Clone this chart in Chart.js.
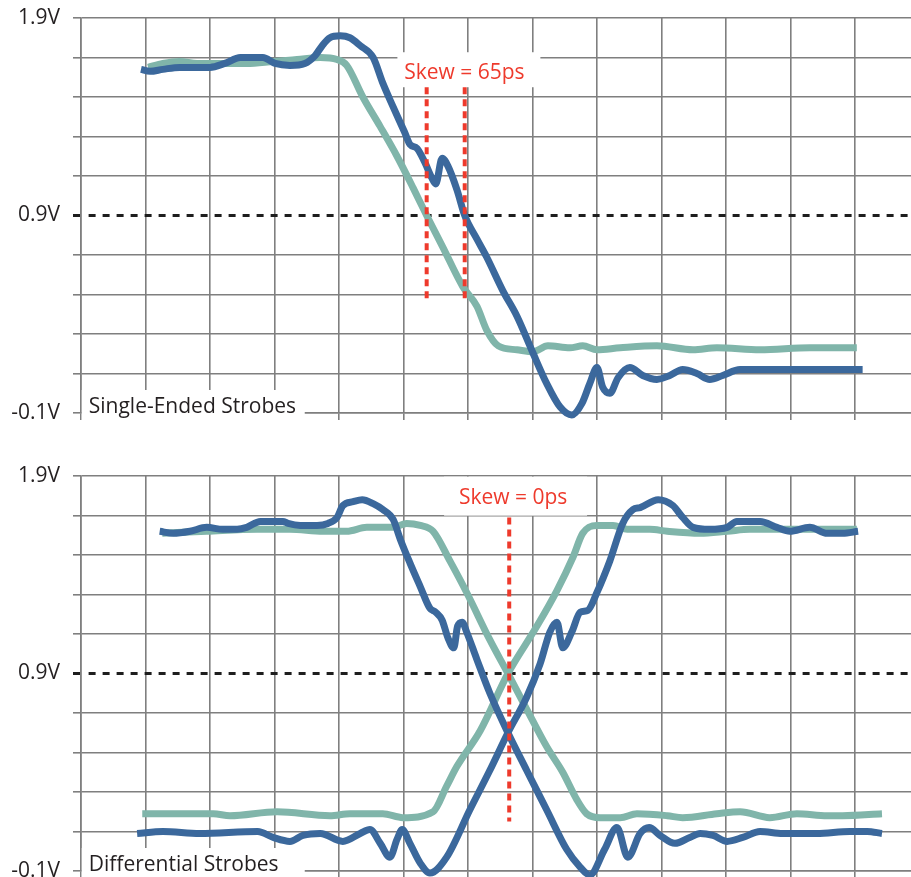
<!DOCTYPE html>
<html>
<head>
<meta charset="utf-8">
<title>Single-ended vs differential strobes</title>
<script src="https://cdn.jsdelivr.net/npm/chart.js@4.4.1/dist/chart.umd.min.js"></script>
<style>
  html, body { margin: 0; padding: 0; background: #fff; }
  canvas { position: absolute; left: 0; }
  #single-ended { top: 0; }
  #differential { top: 440px; }
</style>
</head>
<body>
<canvas id="single-ended" width="911" height="440"></canvas>
<canvas id="differential" width="911" height="437"></canvas>
<script>
// time is in scope divisions, voltage in volts

// single-ended strobes
const seStrobeATime = [0.93, 1.07, 1.27, 1.53, 1.77, 2.00, 2.23, 2.47, 2.82, 3.01, 3.24, 3.47, 3.63, 3.74, 3.86, 4.02, 4.17, 4.33, 4.53, 4.68,
  4.84, 5.02, 5.10, 5.21, 5.33, 5.44, 5.50, 5.60, 5.69, 5.83, 5.95, 6.14, 6.29, 6.54, 6.76, 7.00, 7.22, 7.43, 7.61, 7.77,
  7.89, 8.00, 8.09, 8.20, 8.33, 8.51, 8.71, 8.93, 9.13, 9.33, 9.55, 9.75, 9.95, 10.22, 10.53, 11.04, 11.57, 11.97, 12.12]
const seStrobeAVolts = [1.64, 1.63, 1.64, 1.65, 1.65, 1.65, 1.67, 1.70, 1.70, 1.67, 1.66, 1.67, 1.71, 1.76, 1.80, 1.81, 1.80, 1.76, 1.70, 1.57,
  1.45, 1.32, 1.26, 1.24, 1.17, 1.09, 1.06, 1.19, 1.15, 1.03, 0.90, 0.78, 0.69, 0.52, 0.39, 0.21, 0.05, -0.07, -0.11, -0.05,
  0.05, 0.13, 0.03, 0.00, 0.08, 0.13, 0.09, 0.07, 0.09, 0.12, 0.10, 0.07, 0.09, 0.12, 0.12, 0.12, 0.12, 0.12, 0.12]

const seStrobeBTime = [1.04, 1.27, 1.53, 1.80, 2.16, 2.57, 2.98, 3.35, 3.71, 3.97, 4.12, 4.37, 4.64, 4.90, 5.15, 5.36, 5.61, 5.92, 6.14, 6.29,
  6.47, 6.76, 7.01, 7.24, 7.58, 7.78, 8.00, 8.36, 8.93, 9.49, 9.86, 10.53, 11.30, 12.03]
const seStrobeBVolts = [1.65, 1.67, 1.68, 1.67, 1.67, 1.67, 1.68, 1.69, 1.70, 1.69, 1.66, 1.50, 1.35, 1.20, 1.04, 0.90, 0.74, 0.54, 0.44, 0.32,
  0.24, 0.22, 0.21, 0.24, 0.23, 0.24, 0.22, 0.23, 0.24, 0.22, 0.23, 0.22, 0.23, 0.23]

// differential strobes (true / complement of each pair)
const dqsATime = [1.22, 1.43, 1.69, 1.95, 2.20, 2.42, 2.57, 2.78, 2.98, 3.13, 3.21, 3.40, 3.66, 3.83, 3.97, 4.06, 4.22, 4.36, 4.53, 4.68,
  4.84, 4.95, 5.10, 5.26, 5.41, 5.50, 5.60, 5.69, 5.78, 5.84, 5.91, 5.98, 6.14, 6.34, 6.62, 6.91, 7.22, 7.53, 7.74, 7.89,
  8.12, 8.31, 8.48, 8.67, 8.81, 8.98, 9.21, 9.44, 9.60, 9.80, 10.02, 10.26, 10.53, 10.88, 11.41, 11.92, 12.19, 12.42]
const dqsAVolts = [1.62, 1.61, 1.62, 1.64, 1.63, 1.63, 1.64, 1.67, 1.67, 1.67, 1.66, 1.65, 1.65, 1.66, 1.69, 1.75, 1.77, 1.78, 1.76, 1.73,
  1.68, 1.58, 1.46, 1.34, 1.23, 1.21, 1.17, 1.08, 1.03, 1.14, 1.16, 1.11, 0.97, 0.80, 0.60, 0.41, 0.21, 0.01, -0.08, -0.12,
  0.01, 0.12, -0.03, 0.09, 0.12, 0.08, 0.04, 0.07, 0.09, 0.08, 0.05, 0.07, 0.10, 0.09, 0.09, 0.10, 0.10, 0.09]

const dqsANTime = [0.87, 1.27, 1.84, 2.74, 2.98, 3.24, 3.44, 3.71, 4.06, 4.33, 4.48, 4.64, 4.79, 4.90, 4.98, 5.10, 5.26, 5.41, 5.67, 6.03,
  6.34, 6.62, 6.91, 7.12, 7.27, 7.38, 7.47, 7.61, 7.74, 7.86, 8.00, 8.20, 8.40, 8.56, 8.67, 8.95, 9.18, 9.33, 9.49, 9.75,
  10.02, 10.17, 10.53, 10.79, 10.99, 11.30, 11.57, 11.81, 12.05]
const dqsANVolts = [0.09, 0.10, 0.09, 0.10, 0.07, 0.05, 0.08, 0.09, 0.05, 0.09, 0.11, 0.04, -0.03, 0.06, 0.11, 0.04, -0.06, -0.11, -0.03, 0.21,
  0.41, 0.60, 0.78, 0.95, 1.11, 1.16, 1.03, 1.11, 1.21, 1.22, 1.31, 1.47, 1.66, 1.73, 1.74, 1.78, 1.75, 1.69, 1.64, 1.63,
  1.64, 1.67, 1.67, 1.64, 1.62, 1.64, 1.61, 1.61, 1.62]

const dqsBTime = [1.26, 1.95, 2.73, 3.24, 3.75, 4.12, 4.43, 4.84, 5.05, 5.26, 5.46, 5.72, 5.98, 6.34, 6.62, 6.91, 7.22, 7.47, 7.69, 7.84,
  8.05, 8.36, 8.62, 9.09, 9.33, 9.86, 10.22, 10.68, 11.10, 11.57, 11.81, 12.42]
const dqsBVolts = [1.61, 1.62, 1.63, 1.63, 1.62, 1.62, 1.64, 1.64, 1.66, 1.65, 1.62, 1.47, 1.31, 1.07, 0.90, 0.72, 0.53, 0.40, 0.26, 0.19,
  0.17, 0.17, 0.19, 0.18, 0.17, 0.19, 0.20, 0.17, 0.19, 0.18, 0.18, 0.19]

const dqsBNTime = [0.95, 1.27, 2.05, 2.31, 3.04, 3.86, 4.17, 4.68, 4.99, 5.46, 5.67, 5.83, 6.19, 6.62, 7.07, 7.38, 7.63, 7.78, 8.00, 8.25,
  8.47, 8.82, 9.09, 9.60, 10.02, 10.37, 10.88, 11.41, 12.03]
const dqsBNVolts = [0.19, 0.19, 0.19, 0.18, 0.20, 0.18, 0.19, 0.19, 0.17, 0.20, 0.33, 0.43, 0.61, 0.90, 1.14, 1.32, 1.49, 1.61, 1.65, 1.65,
  1.63, 1.63, 1.62, 1.61, 1.62, 1.63, 1.63, 1.63, 1.63]

// where each pair crosses the 0.9V reference
const seSkewTimes = [5.36, 5.95]
const diffSkewTimes = [6.64]

// grid / tick values
const timeGrid = [0, 1, 2, 3, 4, 5, 6, 7, 8, 9, 10, 11, 12]
const voltGrid = [-0.1, 0.1, 0.3, 0.5, 0.7, 0.9, 1.1, 1.3, 1.5, 1.7, 1.9]
const voltLabelValues = [1.9, 0.9, -0.1]
const voltLabels = ['1.9V', '0.9V', '-0.1V']
const vref = 0.9

const panelTitles = ['Single-Ended Strobes', 'Differential Strobes']
const skewTexts = ['Skew = 65ps', 'Skew = 0ps']

const BLUE = '#3b689c'
const TEAL = '#80b5aa'
const RED = '#ee3a2c'
const GRID = '#7f7f7f'
const INK = '#231f20'
const FONT = '"Open Sans", sans-serif'

Chart.defaults.font.family = FONT

function points(ts, vs) {
  return ts.map((t, i) => ({ x: t, y: vs[i] }))
}

function trace(ts, vs, color) {
  return {
    data: points(ts, vs),
    borderColor: color,
    borderWidth: 7,
    pointRadius: 0,
    cubicInterpolationMode: 'monotone',
    borderCapStyle: 'butt',
    borderJoinStyle: 'round',
    clip: false
  }
}

function skewMarker(t, top, bottom) {
  return {
    data: [{ x: t, y: top }, { x: t, y: bottom }],
    borderColor: RED,
    borderWidth: 4,
    borderDash: [7, 5],
    pointRadius: 0,
    tension: 0,
    clip: false
  }
}

const isVref = ctx => ctx.tick && Math.abs(ctx.tick.value - vref) < 1e-6

// white boxed labels drawn over the grid, under the traces
const strobeLabels = {
  id: 'strobeLabels',
  beforeDatasetsDraw(chart, args, opts) {
    const { ctx } = chart
    const xs = chart.scales.x
    const ys = chart.scales.y
    ctx.save()
    ctx.font = '21px ' + FONT
    ctx.textBaseline = 'alphabetic'
    ctx.textAlign = 'left'
    opts.items.forEach(item => {
      const px = xs.getPixelForValue(item.x)
      const py = ys.getPixelForValue(item.y)
      const w = ctx.measureText(item.text).width
      const left = item.align === 'center' ? px - w / 2 : px
      ctx.fillStyle = '#fff'
      ctx.fillRect(px + item.box[0], py + item.box[1], item.box[2], item.box[3])
      ctx.fillStyle = item.color
      ctx.fillText(item.text, left, py)
    })
    ctx.restore()
  }
}

function panel(canvasId, datasets, padTop, axisHeight, labels) {
  const ctx = document.getElementById(canvasId).getContext('2d')
  return new Chart(ctx, {
    type: 'line',
    data: { datasets: datasets },
    plugins: [strobeLabels],
    options: {
      responsive: false,
      animation: false,
      events: [],
      layout: { padding: { top: padTop, left: 0, right: 0, bottom: 0 } },
      plugins: {
        legend: { display: false },
        tooltip: { enabled: false },
        strobeLabels: { items: labels }
      },
      scales: {
        x: {
          type: 'linear',
          min: 0,
          max: 12.87,
          afterBuildTicks: scale => {
            scale.ticks = timeGrid.map(v => ({ value: v }))
          },
          afterFit: scale => {
            scale.height = axisHeight
            scale.paddingLeft = 0
            scale.paddingRight = 0
          },
          ticks: { display: false },
          grid: { color: GRID, lineWidth: 1.6, tickLength: 7 },
          border: { color: GRID, width: 1.6 }
        },
        y: {
          type: 'linear',
          min: -0.1,
          max: 1.9,
          afterBuildTicks: scale => {
            scale.ticks = voltGrid.map(v => ({ value: v }))
          },
          afterFit: scale => {
            scale.width = 81
            scale.paddingTop = 0
            scale.paddingBottom = 0
          },
          ticks: {
            padding: 13,
            color: INK,
            font: { size: 21 },
            callback: value => {
              const i = voltLabelValues.findIndex(v => Math.abs(v - value) < 1e-6)
              return i >= 0 ? voltLabels[i] : ''
            }
          },
          grid: {
            tickLength: 8,
            color: ctx => (isVref(ctx) ? '#1e1e1e' : GRID),
            lineWidth: ctx => (isVref(ctx) ? 3 : 1.6)
          },
          border: {
            color: GRID,
            width: 1.6,
            dash: ctx => (isVref(ctx) ? [7, 7] : []),
            dashOffset: ctx => (isVref(ctx) ? 7 : 0)
          }
        }
      }
    }
  })
}

const singleEnded = panel(
  'single-ended',
  [
    skewMarker(seSkewTimes[0], 1.55, 0.47),
    skewMarker(seSkewTimes[1], 1.55, 0.47),
    trace(seStrobeATime, seStrobeAVolts, BLUE),
    trace(seStrobeBTime, seStrobeBVolts, TEAL)
  ],
  18,
  27,
  [
    { text: panelTitles[0], x: 0.12, y: -0.1, align: 'left', color: INK, box: [-7, -23, 223, 34] },
    { text: skewTexts[0], x: 5.945, y: 1.59, align: 'center', color: RED, box: [-67, -27, 143, 35] }
  ]
)

const differential = panel(
  'differential',
  [
    skewMarker(diffSkewTimes[0], 1.69, 0.15),
    trace(dqsATime, dqsAVolts, BLUE),
    trace(dqsANTime, dqsANVolts, BLUE),
    trace(dqsBTime, dqsBVolts, TEAL),
    trace(dqsBNTime, dqsBNVolts, TEAL)
  ],
  36,
  6,
  [
    { text: panelTitles[1], x: 0.12, y: -0.1, align: 'left', color: INK, box: [-7, -23, 223, 34] },
    { text: skewTexts[1], x: 6.70, y: 1.76, align: 'center', color: RED, box: [-69, -27, 143, 39] }
  ]
)
</script>
</body>
</html>
